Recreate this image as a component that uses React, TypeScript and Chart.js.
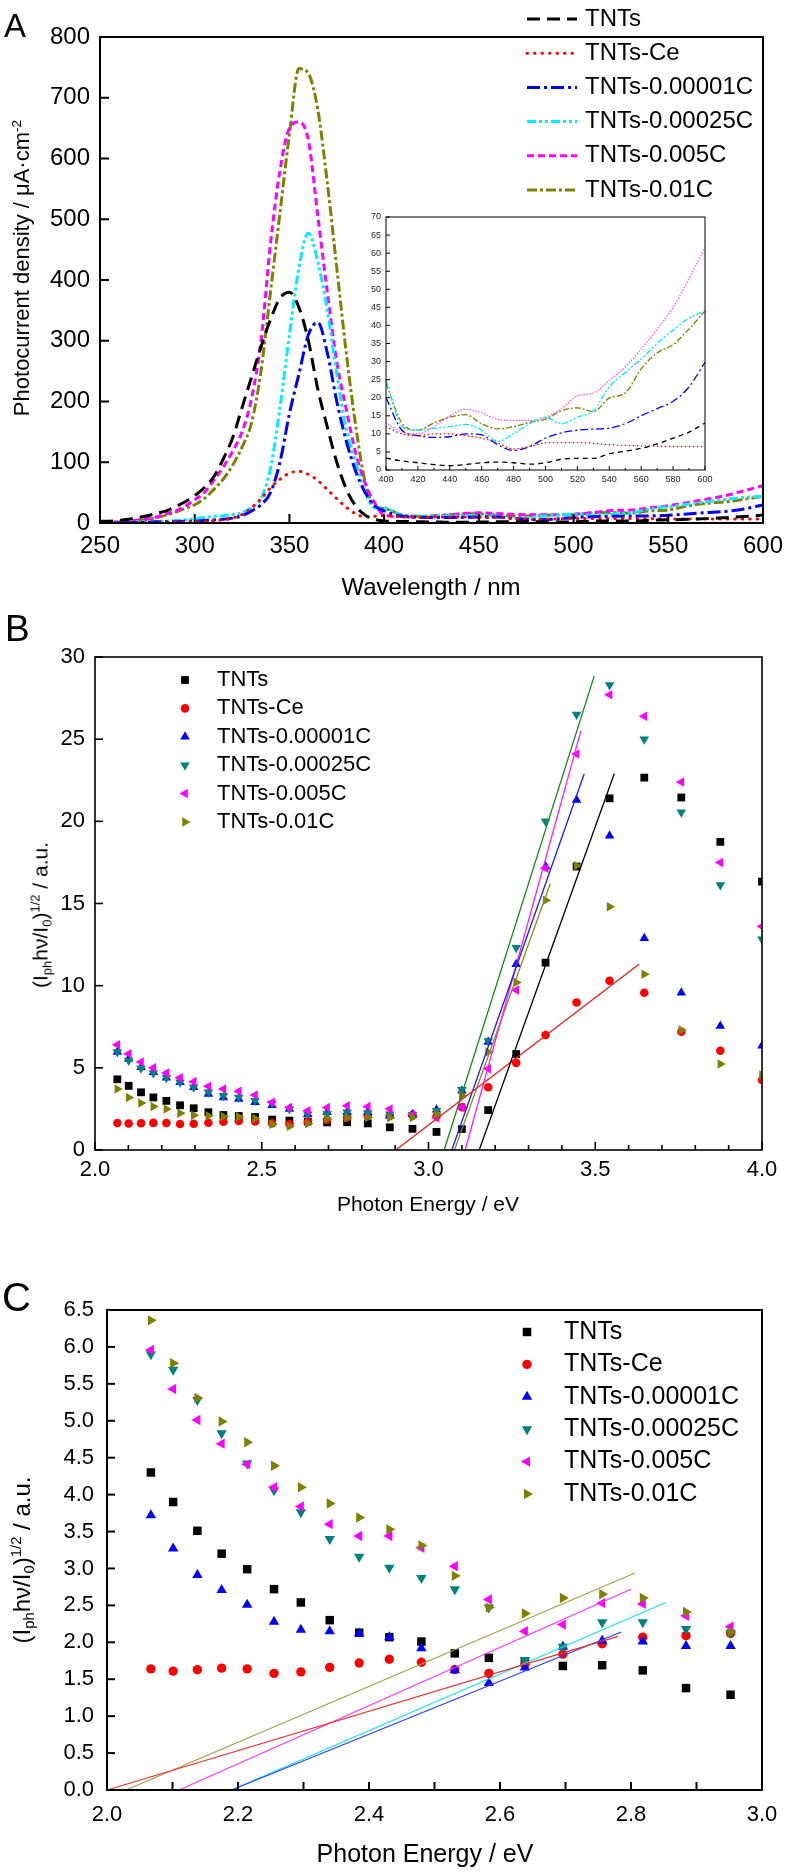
import React, { useEffect, useRef } from 'react';
import { Chart, registerables } from 'chart.js';

Chart.register(...registerables);

const FONT = '"Liberation Sans", Arial, Helvetica, sans-serif';
Chart.defaults.font.family = FONT;
Chart.defaults.color = '#000';

const seriesNames = ['TNTs', 'TNTs-Ce', 'TNTs-0.00001C', 'TNTs-0.00025C', 'TNTs-0.005C', 'TNTs-0.01C'];

// ---------------- Panel A : photocurrent spectra ----------------
const wavelengthUV = [250, 255, 260, 265, 270, 275, 280, 285, 290, 295, 300, 305, 310, 315, 320, 325, 330, 335, 340, 345, 350, 355, 360, 365, 370, 375, 380, 385, 390, 395];
const wavelengthVis = [400, 410, 420, 430, 440, 450, 460, 470, 480, 490, 500, 510, 520, 530, 540, 550, 560, 570, 580, 590, 600];

const A_TNTs_uv = [3, 3, 4, 6, 9, 12, 16, 20, 27, 35, 45, 58, 76, 105, 140, 190, 240, 290, 335, 370, 380, 355, 300, 220, 158, 100, 56, 28, 13, 6];
const A_TNTs_vis = [3.3, 2.5, 2, 1.5, 1.2, 1.5, 2, 2.2, 2, 1.6, 2, 3, 3.2, 3.2, 4.5, 5.2, 6, 7.2, 8.8, 10.5, 13];
const A_Ce_uv = [1, 1, 1, 1, 1, 1, 1, 1, 2, 2, 2, 3, 4, 5, 8, 14, 25, 40, 58, 72, 82, 85, 80, 70, 55, 40, 26, 15, 10, 11];
const A_Ce_vis = [12, 10, 9.5, 10, 10, 9.5, 8.8, 7.5, 5.8, 6.5, 7.5, 7.6, 7.6, 7.4, 7, 6.8, 6.7, 6.6, 6.5, 6.5, 6.5];
const A_001_uv = [2, 1, 1, 1, 1, 1, 2, 2, 2, 3, 3, 4, 5, 6, 8, 12, 20, 30, 50, 100, 180, 245, 310, 330, 280, 200, 135, 85, 50, 28];
const A_001_vis = [20, 11, 9.5, 9, 9.2, 10, 9.7, 7, 5.4, 6.5, 8.8, 10.3, 11, 11.3, 11.6, 12.8, 15, 17, 19, 23, 29.8];
const A_025_uv = [2, 1, 1, 1, 2, 2, 3, 3, 4, 5, 7, 9, 11, 12, 14, 17, 26, 40, 90, 190, 310, 420, 477, 430, 350, 245, 155, 100, 50, 25];
const A_025_vis = [25, 12, 11, 11.5, 12, 12.6, 11, 7.9, 10, 12.8, 14.6, 12.8, 14.6, 16.4, 23, 27, 30.7, 35, 38.7, 42, 44];
const A_005_uv = [2, 1, 2, 3, 5, 7, 10, 15, 20, 28, 38, 50, 70, 92, 118, 150, 205, 300, 460, 580, 650, 660, 630, 505, 380, 265, 187, 115, 65, 33];
const A_005_vis = [13, 10.5, 10, 12, 15, 16.8, 15.8, 14, 13.7, 13.7, 14.6, 17, 20.5, 21.3, 24.8, 28.5, 33.5, 39, 45, 53, 61.5];
const A_01_uv = [2, 1, 2, 3, 4, 6, 9, 13, 18, 24, 30, 40, 55, 72, 95, 125, 165, 250, 380, 510, 640, 748, 740, 680, 560, 420, 280, 160, 67, 28];
const A_01_vis = [24, 13, 11, 13, 14.6, 15.3, 12.8, 11.4, 12, 13.2, 14.1, 16.4, 17.2, 16.2, 19.9, 21.3, 28, 32.4, 34.7, 39, 44];

// ---------------- Panels B / C : (I hv / I0)^1/2 vs photon energy ----------------
const photonEnergy = [2.067, 2.101, 2.138, 2.175, 2.214, 2.255, 2.296, 2.340, 2.385, 2.431, 2.480, 2.531, 2.583, 2.638, 2.696, 2.756, 2.818, 2.884, 2.952, 3.024, 3.100, 3.179, 3.263, 3.351, 3.444, 3.543, 3.647, 3.758, 3.875, 4.000];

const B_TNTs = [4.30, 3.90, 3.51, 3.20, 2.99, 2.72, 2.54, 2.30, 2.13, 2.07, 2.01, 1.85, 1.79, 1.73, 1.68, 1.69, 1.62, 1.38, 1.29, 1.10, 1.27, 2.43, 5.84, 11.4, 17.25, 21.4, 22.66, 21.45, 18.75, 16.33];
const B_Ce = [1.64, 1.61, 1.63, 1.65, 1.64, 1.58, 1.60, 1.66, 1.72, 1.77, 1.73, 1.63, 1.58, 1.70, 1.84, 1.98, 2.07, 2.09, 2.12, 2.05, 2.6, 3.82, 5.3, 7.0, 8.98, 10.3, 9.57, 7.2, 6.04, 4.26];
const B_001 = [5.96, 5.55, 5.04, 4.73, 4.39, 4.12, 3.82, 3.41, 3.2, 3.1, 2.9, 2.73, 2.49, 2.18, 2.29, 2.29, 2.29, 2.08, 2.18, 2.45, 3.6, 6.57, 11.3, 17.25, 21.3, 19.13, 12.88, 9.57, 7.55, 6.35];
const B_025 = [5.96, 5.45, 4.98, 4.69, 4.39, 4.12, 3.82, 3.51, 3.3, 3.2, 3.0, 2.85, 2.49, 2.18, 2.2, 2.29, 2.25, 2.18, 2.14, 2.39, 3.67, 6.63, 12.3, 20.0, 26.5, 28.3, 25.0, 20.55, 16.13, 12.82];
const B_005 = [6.41, 5.86, 5.35, 5.0, 4.69, 4.39, 4.16, 3.88, 3.71, 3.57, 3.35, 2.9, 2.59, 2.39, 2.59, 2.69, 2.65, 2.49, 2.14, 1.96, 2.59, 4.94, 9.74, 17.14, 24.1, 27.7, 26.4, 22.4, 17.5, 13.6];
const B_01 = [3.71, 3.2, 2.86, 2.65, 2.49, 2.24, 2.12, 2.08, 2.04, 2.02, 1.92, 1.57, 1.43, 1.61, 1.88, 1.96, 1.98, 1.96, 1.98, 2.18, 3.31, 5.96, 10.2, 15.2, 17.3, 14.8, 10.7, 7.3, 5.23, 4.56];

// linear fits in B: [x0, y0, x1, y1]
const fitB_TNTs = [3.152, 0, 3.557, 22.9];
const fitB_Ce = [2.902, 0, 3.631, 11.3];
const fitB_001 = [3.07, 0, 3.467, 22.9];
const fitB_025 = [3.047, 0, 3.497, 28.85];
const fitB_005 = [3.11, 0, 3.457, 25.5];
const fitB_01 = [3.078, 0, 3.365, 16.2];

const C_TNTs = [4.30, 3.90, 3.51, 3.20, 2.99, 2.72, 2.54, 2.30, 2.13, 2.07, 2.01, 1.85, 1.79, 1.74, 1.68, 1.69, 1.62, 1.38, 1.29];
const C_Ce = [1.64, 1.61, 1.63, 1.65, 1.64, 1.58, 1.60, 1.66, 1.72, 1.77, 1.73, 1.63, 1.58, 1.70, 1.84, 1.98, 2.07, 2.09, 2.12];
const C_001 = [3.72, 3.27, 2.91, 2.71, 2.51, 2.28, 2.17, 2.15, 2.12, 2.07, 1.92, 1.62, 1.45, 1.66, 1.94, 2.02, 2.01, 1.95, 1.95];
const C_025 = [5.90, 5.69, 5.28, 4.83, 4.42, 4.06, 3.76, 3.40, 3.16, 3.01, 2.87, 2.72, 2.47, 1.76, 1.94, 2.27, 2.27, 2.18, 2.13];
const C_005 = [5.96, 5.43, 5.01, 4.69, 4.41, 4.10, 3.84, 3.60, 3.44, 3.44, 3.28, 3.03, 2.58, 2.15, 2.24, 2.53, 2.52, 2.36, 2.21];
const C_01 = [6.36, 5.78, 5.31, 4.99, 4.71, 4.39, 4.10, 3.88, 3.69, 3.53, 3.31, 2.90, 2.47, 2.39, 2.60, 2.65, 2.60, 2.41, 2.14];

const fitC_Ce = [2.0, 0, 2.78, 2.08];
const fitC_001 = [2.19, 0, 2.785, 2.14];
const fitC_025 = [2.19, 0, 2.853, 2.54];
const fitC_005 = [2.11, 0, 2.80, 2.72];
const fitC_01 = [2.029, 0, 2.806, 2.94];

// ---------------- styles ----------------
const lineColors = ['#000000', '#ff0000', '#0000ff', '#00eeff', '#ff00ff', '#808000'];
const mainDash = [[13, 7], [0.5, 7], [13, 4, 3, 4], [9, 3, 3, 3, 3, 3], [7, 4], [10, 3, 3, 3]];
const insetDash = [[5, 4], [0.5, 3.5], [8, 3, 2, 3], [6, 2, 2, 2, 2, 2], [0.5, 2.5], [6, 2, 2, 2]];
const mainCaps = ['butt', 'round', 'butt', 'butt', 'butt', 'butt'];
const insetCaps = ['butt', 'round', 'butt', 'butt', 'round', 'butt'];
const markerColors = ['#000000', '#ff0000', '#0000ff', '#008080', '#ff00ff', '#808000'];
const markerStyles = ['rect', 'circle', 'triangle', 'triangle', 'triangle', 'triangle'];
const markerRot = [0, 0, 0, 180, 270, 90];

// ---------------- plugins ----------------
const frameTicks = {
  id: 'frameTicks',
  afterDatasetsDraw(chart: any, _a: any, o: any) {
    const { ctx, chartArea: a, scales } = chart;
    ctx.save();
    ctx.strokeStyle = '#000';
    ctx.lineWidth = o.lw;
    ctx.setLineDash([]);
    ctx.strokeRect(a.left, a.top, a.right - a.left, a.bottom - a.top);
    const draw = (scale: any, cfg: any, horiz: boolean) => {
      const n = Math.round((scale.max - scale.min) / cfg.minor);
      for (let i = 0; i <= n; i++) {
        const v = scale.min + i * cfg.minor;
        const q = (v - scale.min) / cfg.major;
        const major = Math.abs(q - Math.round(q)) < 1e-6;
        const len = major ? cfg.len : cfg.minorLen;
        const p = scale.getPixelForValue(v);
        ctx.beginPath();
        if (horiz) {
          ctx.moveTo(p, a.bottom);
          ctx.lineTo(p, a.bottom - len);
        } else {
          ctx.moveTo(a.left, p);
          ctx.lineTo(a.left + len, p);
        }
        ctx.stroke();
      }
    };
    ctx.lineWidth = o.tw;
    draw(scales.x, o.x, true);
    draw(scales.y, o.y, false);
    ctx.restore();
  },
};

const lineLegend = {
  id: 'lineLegend',
  afterDraw(chart: any, _a: any, o: any) {
    if (!o || !o.show) return;
    const ctx = chart.ctx;
    ctx.save();
    chart.data.datasets.forEach((ds: any, i: number) => {
      const y = o.y0 + i * o.dy;
      ctx.strokeStyle = ds.borderColor;
      ctx.lineWidth = ds.borderWidth;
      ctx.lineCap = ds.borderCapStyle || 'butt';
      ctx.setLineDash(ds.borderDash || []);
      ctx.beginPath();
      ctx.moveTo(o.x0, y);
      ctx.lineTo(o.x1, y);
      ctx.stroke();
      ctx.setLineDash([]);
      ctx.fillStyle = '#000';
      ctx.font = `${o.size}px ${FONT}`;
      ctx.textBaseline = 'middle';
      ctx.textAlign = 'left';
      ctx.fillText(ds.label, o.tx, y);
    });
    ctx.restore();
  },
};

const markerLegend = {
  id: 'markerLegend',
  afterDraw(chart: any, _a: any, o: any) {
    const ctx = chart.ctx;
    ctx.save();
    let row = 0;
    chart.data.datasets.forEach((ds: any) => {
      if (ds.showLine) return;
      const y = o.y0 + row * o.dy;
      const x = o.mx;
      const r = o.r;
      ctx.fillStyle = ds.backgroundColor;
      ctx.beginPath();
      if (ds.pointStyle === 'rect') {
        const s = r * Math.SQRT1_2;
        ctx.rect(x - s, y - s, 2 * s, 2 * s);
      } else if (ds.pointStyle === 'circle') {
        ctx.arc(x, y, r * 0.78, 0, Math.PI * 2);
      } else {
        let ang = ((ds.rotation || 0) * Math.PI) / 180;
        for (let k = 0; k < 3; k++) {
          const px = x + Math.sin(ang) * r;
          const py = y - Math.cos(ang) * r;
          if (k === 0) ctx.moveTo(px, py);
          else ctx.lineTo(px, py);
          ang += (2 * Math.PI) / 3;
        }
        ctx.closePath();
      }
      ctx.fill();
      ctx.fillStyle = '#000';
      ctx.font = `${o.size}px ${FONT}`;
      ctx.textBaseline = 'middle';
      ctx.textAlign = 'left';
      ctx.fillText(ds.label, o.tx, y);
      row++;
    });
    ctx.restore();
  },
};

const whiteArea = {
  id: 'whiteArea',
  beforeDatasetsDraw(chart: any) {
    const { ctx, chartArea: a } = chart;
    ctx.save();
    ctx.fillStyle = '#fff';
    ctx.fillRect(a.left, a.top, a.right - a.left, a.bottom - a.top);
    ctx.restore();
  },
};

// ---------------- config builders ----------------
function axes(o: any) {
  return {
    x: {
      type: 'linear',
      min: o.xmin,
      max: o.xmax,
      grid: { display: false, drawTicks: false },
      border: { display: false },
      ticks: {
        stepSize: o.xstep,
        autoSkip: false,
        maxRotation: 0,
        padding: o.xpad,
        font: { size: o.font },
        color: o.color || '#000',
        callback: (v: any) => Number(v).toFixed(o.xdec),
      },
      afterFit: (s: any) => {
        s.height = o.xh;
        s.paddingLeft = 0;
        s.paddingRight = 0;
      },
    },
    y: {
      type: 'linear',
      min: o.ymin,
      max: o.ymax,
      grid: { display: false, drawTicks: false },
      border: { display: false },
      ticks: {
        stepSize: o.ystep,
        autoSkip: false,
        padding: o.ypad,
        font: { size: o.font },
        color: o.color || '#000',
        callback: (v: any) => Number(v).toFixed(o.ydec),
      },
      afterFit: (s: any) => {
        s.width = o.yw;
        s.paddingTop = 0;
        s.paddingBottom = 0;
      },
    },
  };
}

function xy(xs: number[], ys: number[]) {
  return xs.map((x, i) => ({ x, y: ys[i] }));
}

const uvAll = [A_TNTs_uv, A_Ce_uv, A_001_uv, A_025_uv, A_005_uv, A_01_uv];
const visAll = [A_TNTs_vis, A_Ce_vis, A_001_vis, A_025_vis, A_005_vis, A_01_vis];

function makeA() {
  const wl = [...wavelengthUV, ...wavelengthVis];
  return {
    type: 'scatter',
    data: {
      datasets: seriesNames.map((name, i) => ({
        label: name,
        data: xy(wl, [...uvAll[i], ...visAll[i]]),
        showLine: true,
        pointRadius: 0,
        borderColor: lineColors[i],
        borderWidth: 3,
        borderDash: mainDash[i],
        borderCapStyle: mainCaps[i],
        cubicInterpolationMode: 'monotone',
      })),
    },
    options: {
      animation: false,
      responsive: false,
      events: [],
      layout: { padding: { left: 0, top: 37, right: 22, bottom: 0 } },
      scales: axes({ xmin: 250, xmax: 600, xstep: 50, xdec: 0, ymin: 0, ymax: 800, ystep: 100, ydec: 0, font: 24, xpad: 9, ypad: 10, xh: 97, yw: 100 }),
      plugins: {
        legend: { display: false },
        tooltip: { enabled: false },
        frameTicks: { lw: 2, tw: 2, x: { major: 50, minor: 50, len: 9, minorLen: 9 }, y: { major: 100, minor: 100, len: 9, minorLen: 9 } },
        lineLegend: { show: true, x0: 527, x1: 577, tx: 585, y0: 19, dy: 34.2, size: 24 },
      },
    },
    plugins: [frameTicks, lineLegend],
  };
}

function makeInset() {
  return {
    type: 'scatter',
    data: {
      datasets: seriesNames.map((name, i) => ({
        label: name,
        data: xy(wavelengthVis, visAll[i]),
        showLine: true,
        pointRadius: 0,
        borderColor: i === 4 ? '#ff55ff' : lineColors[i],
        borderWidth: 1.3,
        borderDash: insetDash[i],
        borderCapStyle: insetCaps[i],
        cubicInterpolationMode: 'monotone',
      })),
    },
    options: {
      animation: false,
      responsive: false,
      events: [],
      layout: { padding: { left: 0, top: 17, right: 15, bottom: 0 } },
      scales: axes({ xmin: 400, xmax: 600, xstep: 20, xdec: 0, ymin: 0, ymax: 70, ystep: 5, ydec: 0, font: 9, xpad: 4, ypad: 5, xh: 25, yw: 46, color: '#222' }),
      plugins: {
        legend: { display: false },
        tooltip: { enabled: false },
        frameTicks: { lw: 1, tw: 1, x: { major: 20, minor: 10, len: 4, minorLen: 2 }, y: { major: 5, minor: 5, len: 4, minorLen: 4 } },
        lineLegend: { show: false },
      },
    },
    plugins: [whiteArea, frameTicks, lineLegend],
  };
}

function fitSet(f: number[], color: string, width: number) {
  return {
    label: '',
    data: [{ x: f[0], y: f[1] }, { x: f[2], y: f[3] }],
    showLine: true,
    pointRadius: 0,
    borderColor: color,
    borderWidth: width,
    order: 0,
  };
}

function pointSets(series: number[][], r: number) {
  return series.map((vals, i) => ({
    label: seriesNames[i],
    data: xy(photonEnergy.slice(0, vals.length), vals),
    showLine: false,
    pointStyle: markerStyles[i],
    rotation: markerRot[i],
    pointRadius: i === 1 ? r * 0.78 : r,
    backgroundColor: markerColors[i],
    borderColor: markerColors[i],
    pointBorderWidth: 0,
    order: 6 - i,
  }));
}

function makeB() {
  return {
    type: 'scatter',
    data: {
      datasets: [
        ...pointSets([B_TNTs, B_Ce, B_001, B_025, B_005, B_01], 5.5),
        fitSet(fitB_TNTs, '#000000', 1.3),
        fitSet(fitB_Ce, '#ee1c1c', 1.3),
        fitSet(fitB_001, '#1a1aff', 1.3),
        fitSet(fitB_025, '#138a13', 1.3),
        fitSet(fitB_005, '#ff1aff', 1.3),
        fitSet(fitB_01, '#8a8a1a', 1.3),
      ],
    },
    options: {
      animation: false,
      responsive: false,
      events: [],
      layout: { padding: { left: 0, top: 37, right: 23, bottom: 0 } },
      scales: axes({ xmin: 2, xmax: 4, xstep: 0.5, xdec: 1, ymin: 0, ymax: 30, ystep: 5, ydec: 0, font: 22, xpad: 7, ypad: 10, xh: 100, yw: 95 }),
      plugins: {
        legend: { display: false },
        tooltip: { enabled: false },
        frameTicks: { lw: 1.6, tw: 1.6, x: { major: 0.5, minor: 0.1, len: 8, minorLen: 5 }, y: { major: 5, minor: 5, len: 8, minorLen: 8 } },
        markerLegend: { mx: 185, tx: 217, y0: 60, dy: 28.4, r: 5.5, size: 22 },
      },
    },
    plugins: [frameTicks, markerLegend],
  };
}

function makeC() {
  return {
    type: 'scatter',
    data: {
      datasets: [
        ...pointSets([C_TNTs, C_Ce, C_001, C_025, C_005, C_01], 6),
        fitSet(fitC_Ce, '#e83030', 1.1),
        fitSet(fitC_001, '#2a3cff', 1.1),
        fitSet(fitC_025, '#10e0f0', 1.1),
        fitSet(fitC_005, '#ff30ff', 1.1),
        fitSet(fitC_01, '#a0a040', 1.1),
      ],
    },
    options: {
      animation: false,
      responsive: false,
      events: [],
      layout: { padding: { left: 0, top: 60, right: 23, bottom: 0 } },
      scales: axes({ xmin: 2, xmax: 3, xstep: 0.2, xdec: 1, ymin: 0, ymax: 6.5, ystep: 0.5, ydec: 1, font: 22, xpad: 12, ypad: 13, xh: 84, yw: 107 }),
      plugins: {
        legend: { display: false },
        tooltip: { enabled: false },
        frameTicks: { lw: 2, tw: 2, x: { major: 0.1, minor: 0.1, len: 8, minorLen: 8 }, y: { major: 0.5, minor: 0.5, len: 8, minorLen: 8 } },
        markerLegend: { mx: 527, tx: 564, y0: 82, dy: 32.4, r: 6, size: 25 },
      },
    },
    plugins: [frameTicks, markerLegend],
  };
}

// ---------------- components ----------------
function ChartBox(props: { make: () => any; left: number; top: number; width: number; height: number }) {
  const ref = useRef<HTMLCanvasElement | null>(null);
  useEffect(() => {
    const chart = new Chart(ref.current as HTMLCanvasElement, props.make());
    return () => chart.destroy();
  }, []);
  return (
    <canvas
      ref={ref}
      width={props.width}
      height={props.height}
      style={{ position: 'absolute', left: props.left, top: props.top, width: props.width, height: props.height }}
    />
  );
}

const Sub = ({ children }: any) => (
  <span style={{ fontSize: '0.62em', position: 'relative', top: '0.3em' }}>{children}</span>
);
const Sup = ({ children }: any) => (
  <span style={{ fontSize: '0.62em', position: 'relative', top: '-0.6em' }}>{children}</span>
);

function Label(props: { x: number; y: number; size: number; rotate?: boolean; children: any }) {
  return (
    <div
      style={{
        position: 'absolute',
        left: props.x,
        top: props.y,
        transform: `translate(-50%, -50%)${props.rotate ? ' rotate(-90deg)' : ''}`,
        whiteSpace: 'nowrap',
        fontSize: props.size,
        fontFamily: FONT,
        lineHeight: 1,
        color: '#000',
      }}
    >
      {props.children}
    </div>
  );
}

function Letter(props: { x: number; y: number; size: number; t: string }) {
  return (
    <div style={{ position: 'absolute', left: props.x, top: props.y, fontSize: props.size, fontFamily: FONT, lineHeight: 1 }}>
      {props.t}
    </div>
  );
}

const yTitleBC = (
  <>
    (I<Sub>ph</Sub>hν/I<Sub>0</Sub>)<Sup>1/2</Sup> / a.u.
  </>
);

export default function App() {
  useEffect(() => {
    document.body.style.margin = '0';
  }, []);
  return (
    <div style={{ position: 'relative', width: 785, height: 1874, background: '#fff', overflow: 'hidden' }}>
      <ChartBox make={makeA} left={0} top={0} width={785} height={620} />
      <ChartBox make={makeInset} left={340} top={200} width={380} height={295} />
      <ChartBox make={makeB} left={0} top={620} width={785} height={630} />
      <ChartBox make={makeC} left={0} top={1250} width={785} height={624} />

      <Letter x={4} y={9} size={33} t="A" />
      <Letter x={5} y={610} size={37} t="B" />
      <Letter x={2} y={1277} size={40} t="C" />

      <Label x={22} y={268} size={22} rotate>
        Photocurrent density / μA·cm<Sup>-2</Sup>
      </Label>
      <Label x={431} y={587} size={24}>
        Wavelength / nm
      </Label>

      <Label x={40} y={915} size={21} rotate>
        {yTitleBC}
      </Label>
      <Label x={428} y={1203} size={21}>
        Photon Energy / eV
      </Label>

      <Label x={22} y={1560} size={24} rotate>
        {yTitleBC}
      </Label>
      <Label x={425} y={1853} size={25}>
        Photon Energy / eV
      </Label>
    </div>
  );
}
